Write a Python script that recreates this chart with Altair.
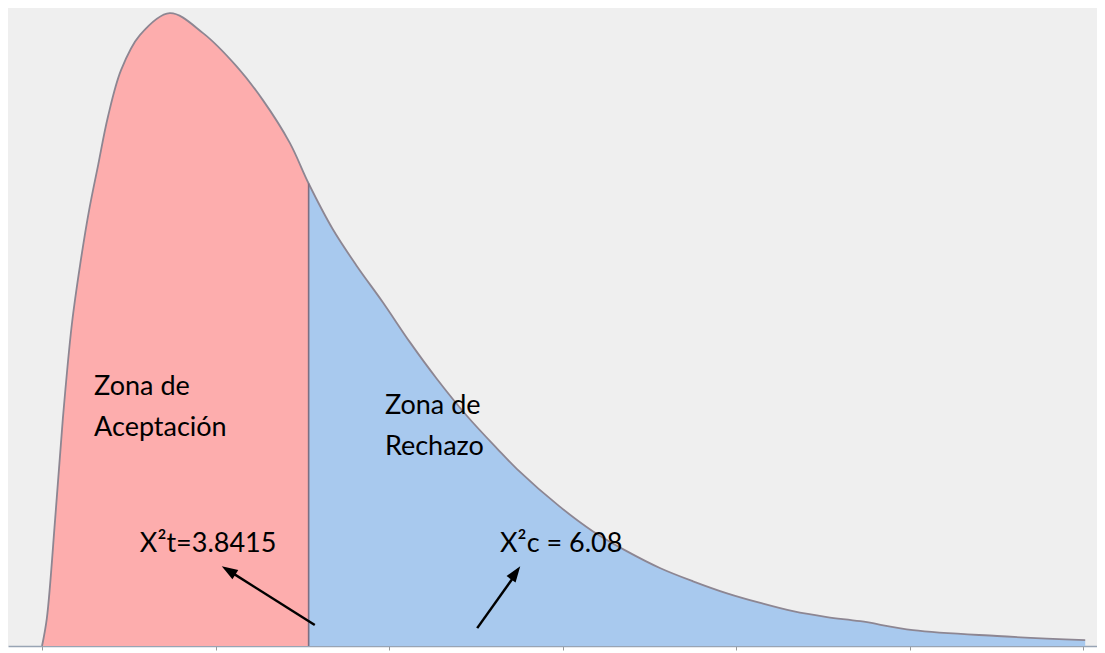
import altair as alt
import pandas as pd

# Curve (x in chi-square units, y = density)
x_vals = [0.0, 0.07, 0.19, 0.30, 0.43, 0.55, 0.68, 0.81, 0.95,
          1.14, 1.41, 1.84, 2.32, 2.81, 3.18, 3.57, 3.8415,
          4.19, 4.54, 4.91, 5.30, 5.69, 6.12, 6.56, 6.84,
          7.46, 7.94, 8.43, 8.91, 9.38, 9.87, 10.35, 10.82, 11.31, 11.79,
          12.55, 13.76, 15.03]
y_vals = [0.0, 0.0081, 0.0371, 0.0660, 0.0935, 0.1109, 0.1268, 0.1399, 0.1538,
          0.1674, 0.1775, 0.1839, 0.1781, 0.1683, 0.1587, 0.1462, 0.1344,
          0.1211, 0.1103, 0.0999, 0.0883, 0.0776, 0.0669, 0.0573, 0.0515,
          0.0405, 0.0333, 0.0275, 0.0226, 0.0188, 0.0153, 0.0125, 0.0101, 0.0084, 0.0072,
          0.0046, 0.0029, 0.0017]
critical = 3.8415
critical_y = 0.1344
zones = ["Zona de Aceptación", "Zona de Rechazo"]
zone_colors = ["#fdadad", "#a8c9ee"]
tick_values = [0, 2.5, 5, 7.5, 10, 12.5, 15]

label_text = ["Zona de", "Aceptación", "Zona de", "Rechazo", "X²t=3.8415", "X²c = 6.08"]
label_x = [0.75, 0.75, 4.94, 4.94, 1.41, 6.60]
label_y = [0.0753, 0.0634, 0.0698, 0.0579, 0.0295, 0.0295]

arrow_x = [3.93, 6.27]
arrow_y = [0.0061, 0.0052]
arrow_x2 = [2.69, 6.84]
arrow_y2 = [0.0219, 0.0213]
tip_x = [2.59, 6.89]
tip_y = [0.0232, 0.0232]
tip_angle = [302, 35]

rows = []
for xv, yv in zip(x_vals, y_vals):
    if xv <= critical:
        rows.append({"x": xv, "y": yv, "zone": zones[0]})
    if xv >= critical:
        rows.append({"x": xv, "y": yv, "zone": zones[1]})
curve_df = pd.DataFrame(rows)
line_df = pd.DataFrame({"x": x_vals, "y": y_vals})
crit_df = pd.DataFrame({"x": [critical], "y": [0.0], "y2": [critical_y]})
label_df = pd.DataFrame({"t": label_text, "x": label_x, "y": label_y})
arrow_df = pd.DataFrame({"x": arrow_x, "y": arrow_y, "x2": arrow_x2, "y2": arrow_y2})
tip_df = pd.DataFrame({"x": tip_x, "y": tip_y, "angle": tip_angle})

xscale = alt.Scale(domain=[-0.49, 15.20], nice=False, zero=False)
yscale = alt.Scale(domain=[0, 0.1854], nice=False)
xaxis = alt.Axis(values=tick_values, labels=False, title=None, grid=False,
                 tickSize=4, tickColor="#9a9a9a", domainColor="#98a4b4", domainWidth=1.5)

interp = "catmull-rom"

area = alt.Chart(curve_df).mark_area(interpolate=interp, opacity=1).encode(
    x=alt.X("x:Q", scale=xscale, axis=xaxis),
    y=alt.Y("y:Q", scale=yscale, axis=None, stack=None),
    color=alt.Color("zone:N", scale=alt.Scale(domain=zones, range=zone_colors), legend=None),
    detail="zone:N",
)

line = alt.Chart(line_df).mark_line(interpolate=interp, color="#8d8692", strokeWidth=1.8).encode(
    x=alt.X("x:Q", scale=xscale), y=alt.Y("y:Q", scale=yscale)
)

crit_rule = alt.Chart(crit_df).mark_rule(color="#7c6f82", strokeWidth=1.6).encode(
    x=alt.X("x:Q", scale=xscale), y=alt.Y("y:Q", scale=yscale), y2="y2:Q"
)

shafts = alt.Chart(arrow_df).mark_rule(color="black", strokeWidth=2.5).encode(
    x=alt.X("x:Q", scale=xscale), y=alt.Y("y:Q", scale=yscale), x2="x2:Q", y2="y2:Q"
)

tips = alt.Chart(tip_df).mark_point(
    shape="M0,0L0.55,1.6L-0.55,1.6Z", filled=True, color="black", opacity=1, size=400
).encode(
    x=alt.X("x:Q", scale=xscale), y=alt.Y("y:Q", scale=yscale),
    angle=alt.Angle("angle:Q", scale=None)
)

labels = alt.Chart(label_df).mark_text(
    align="left", baseline="middle", font="Lato", fontSize=27, color="black"
).encode(
    x=alt.X("x:Q", scale=xscale), y=alt.Y("y:Q", scale=yscale), text="t:N"
)

chart = alt.layer(area, line, crit_rule, shafts, tips, labels).properties(
    width=1089, height=638, padding=0, background="white"
).configure_view(fill="#efefef", stroke=None)

chart.save("out.html", embed_options={"renderer": "svg", "actions": False})
